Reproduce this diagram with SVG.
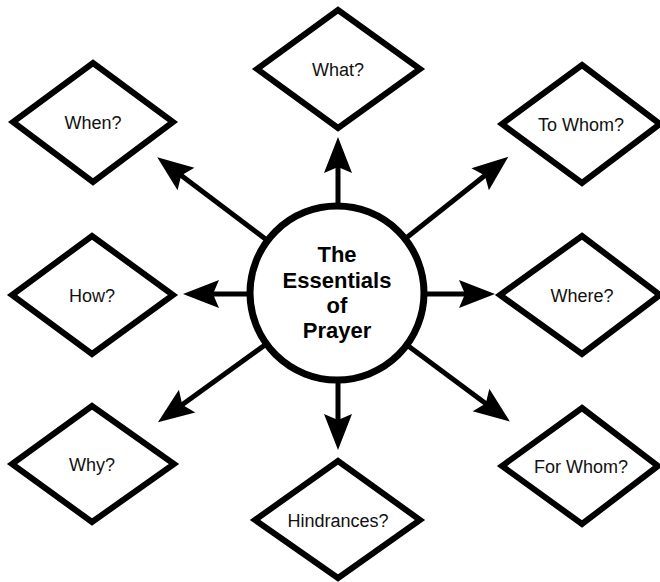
<svg xmlns="http://www.w3.org/2000/svg" width="660" height="582" viewBox="0 0 660 582">
<style>
.d{fill:#fff;stroke:#000;stroke-width:6;stroke-linejoin:miter}
.t{font-family:"Liberation Sans",Arial,sans-serif;font-size:18px;fill:#111;text-anchor:middle}
.c{fill:#fff;stroke:#000;stroke-width:7}
.ct{font-family:"Liberation Sans",Arial,sans-serif;font-size:22px;font-weight:bold;fill:#000;text-anchor:middle}
.a{stroke:#000;stroke-width:5;fill:none;marker-end:url(#ah)}
</style>
<defs>
<marker id="ah" markerUnits="userSpaceOnUse" markerWidth="40" markerHeight="32" refX="10" refY="0" orient="auto" overflow="visible">
<path d="M36,0 L0,-14 L6,0 L0,14 Z" fill="#000"/>
</marker>
</defs>
<g id="connectors">
<line class="a" x1="338" y1="293" x2="338" y2="163"/>
<line class="a" x1="338" y1="293" x2="338" y2="424"/>
<line class="a" x1="337" y1="294" x2="209" y2="294"/>
<line class="a" x1="337" y1="294" x2="469" y2="294"/>
<line class="a" x1="337" y1="293" x2="178" y2="173"/>
<line class="a" x1="337" y1="293" x2="488" y2="173"/>
<line class="a" x1="337" y1="293" x2="179" y2="407"/>
<line class="a" x1="337" y1="293" x2="489" y2="406"/>
</g>
<g id="center">
<circle class="c" cx="337" cy="293" r="87"/>
<text class="ct" x="337" y="262">The</text>
<text class="ct" x="337" y="288">Essentials</text>
<text class="ct" x="337" y="313">of</text>
<text class="ct" x="337" y="338">Prayer</text>
</g>
<g id="what">
<polygon class="d" points="338,10 420,69 338,128 257,69"/>
<text class="t" x="338" y="76">What?</text>
</g>
<g id="when">
<polygon class="d" points="93,63 173,122 93,182 13,122"/>
<text class="t" x="93" y="129">When?</text>
</g>
<g id="towhom">
<polygon class="d" points="582,65 660,124 582,183 502,124"/>
<text class="t" x="581" y="131">To Whom?</text>
</g>
<g id="how">
<polygon class="d" points="92,236 173,295 92,354 12,295"/>
<text class="t" x="92" y="302">How?</text>
</g>
<g id="where">
<polygon class="d" points="582,236 660,295 582,354 500,295"/>
<text class="t" x="582" y="302">Where?</text>
</g>
<g id="why">
<polygon class="d" points="92,406 174,464 92,522 12,464"/>
<text class="t" x="92" y="471">Why?</text>
</g>
<g id="hindrances">
<polygon class="d" points="338,461 420,520 338,578 255,520"/>
<text class="t" x="338" y="527">Hindrances?</text>
</g>
<g id="forwhom">
<polygon class="d" points="582,408 658,466 582,524 502,466"/>
<text class="t" x="581" y="473">For Whom?</text>
</g>
</svg>
